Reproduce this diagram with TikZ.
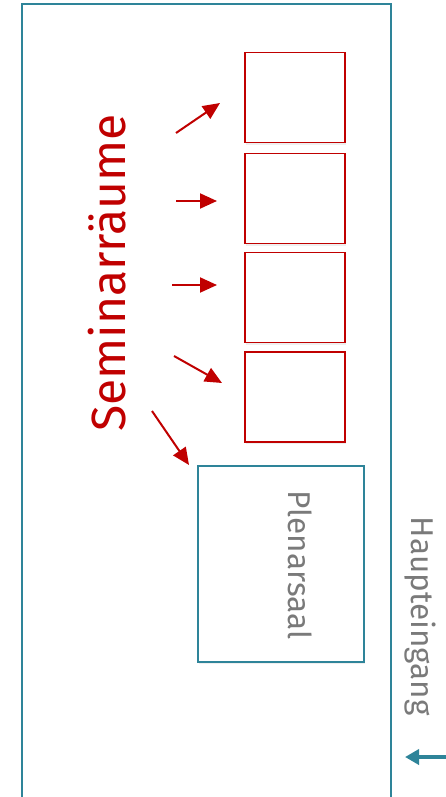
\documentclass[tikz,border=0pt]{standalone}
\usepackage{fontspec}
\setmainfont{Fira Sans}
\usetikzlibrary{arrows.meta,shadows}
\definecolor{teal1}{HTML}{2E8499}
\definecolor{red1}{HTML}{C00000}
\definecolor{grey1}{HTML}{7A7A7A}
\tikzset{
  room/.style={draw=red1,line width=1.4pt,minimum width=100pt,minimum height=90pt,
    fill=white,drop shadow={opacity=0.12,shadow xshift=1pt,shadow yshift=-2pt}},
  hall/.style={draw=teal1,line width=1.4pt,fill=white,
    drop shadow={opacity=0.12,shadow xshift=1pt,shadow yshift=-2pt}},
  pointer/.style={draw=red1,line width=2pt,-{Triangle[length=17pt,width=15pt]}},
}
\begin{document}
\begin{tikzpicture}[x=1pt,y=-1pt]
      \useasboundingbox (0,0) rectangle (446,797);
      \draw[hall] (22,4) rectangle (391,810);
      \draw
        (295,97.5) node[room] (1){}
        (295,198.5) node[room] (2){}
        (295,297.5) node[room] (3){}
        (295,397) node[room] (4){}
        (281,564) node[hall,minimum width=166pt,minimum height=196pt] (5){};
      \node[rotate=90,text=red1,font=\fontsize{48}{48}\selectfont] (sem) at (107,273) {Seminarräume};
      \node[rotate=-90,text=grey1,font=\fontsize{31.5}{32}\selectfont] (plen) at (300,565) {Plenarsaal};
      \node[rotate=-90,text=grey1,font=\fontsize{31.5}{32}\selectfont] (haupt) at (420,616) {Haupteingang};
      \draw
        (176,133) coordinate (a1) (220,103) coordinate (b1)
        (176,201) coordinate (a2) (217,201) coordinate (b2)
        (172,285) coordinate (a3) (217,285) coordinate (b3)
        (174,356) coordinate (a4) (222,383) coordinate (b4)
        (152,411) coordinate (a5) (189,465) coordinate (b5)
        (448,757) coordinate (e1) (405,757) coordinate (e2);
      \begin{scope}[pointer]
        \draw (a1) to (b1);
        \draw (a2) to (b2);
        \draw (a3) to (b3);
        \draw (a4) to (b4);
        \draw (a5) to (b5);
      \end{scope}
      \draw[draw=teal1,line width=4pt,-{Triangle[length=14pt,width=15pt]}] (e1) to (e2);
    \end{tikzpicture}
\end{document}
